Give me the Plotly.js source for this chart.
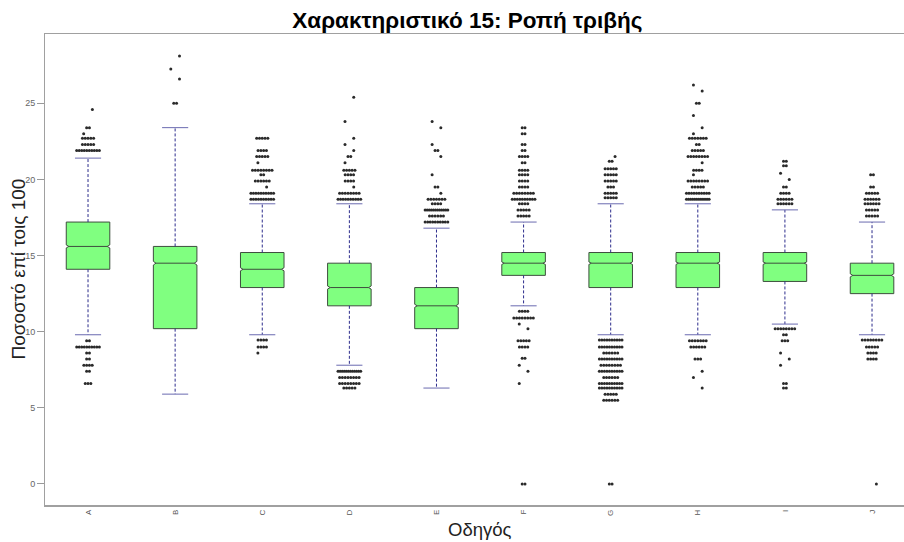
<!DOCTYPE html>
<html>
<head>
<meta charset="utf-8">
<script src="https://cdn.plot.ly/plotly-3.0.1.min.js"></script>
<style>html,body{margin:0;padding:0;background:#fff;}#chart{width:904px;height:542px;}</style>
</head>
<body>
<div id="chart"></div>
<script>
// ---- data ----
const categories = ['A','B','C','D','E','F','G','H','I','J'];
const q1      = [14.1, 10.2, 12.9, 11.7, 10.2, 13.7, 12.9, 12.9, 13.3, 12.5];
const medians = [15.6, 14.5, 14.1, 12.9, 11.7, 14.5, 14.5, 14.5, 14.5, 13.7];
const q3      = [17.2, 15.6, 15.2, 14.5, 12.9, 15.2, 15.2, 15.2, 15.2, 14.5];
const lowerWhisker = [9.8, 5.9, 9.8, 7.8, 6.3, 11.7, 9.8, 9.8, 10.5, 9.8];
const upperWhisker = [21.4, 23.4, 18.4, 18.4, 16.8, 17.2, 18.4, 18.4, 18.0, 17.2];
const notchSpan = [0.1, 0.12, 0.1, 0.1, 0.1, 0.08, 0.08, 0.08, 0.08, 0.1];

// outlier levels (value) and how many points sit on each level
const outA_y = [24.6, 23.4, 23.0, 22.7, 22.3, 21.9, 9.4, 9.0, 8.6, 8.2, 7.8, 7.4, 6.6];
const outA_n = [1, 2, 1, 5, 5, 10, 2, 10, 2, 2, 4, 2, 3];
const outB_y = [28.1, 27.25, 26.6, 25.0];
const outB_n = [1, 1, 1, 2];
const outC_y = [22.7, 21.9, 21.5, 21.1, 20.6, 20.3, 19.9, 19.5, 19.1, 18.7, 9.45, 9.0, 8.6];
const outC_n = [5, 4, 5, 1, 8, 2, 6, 1, 10, 10, 4, 4, 1];
const outD_y = [25.4, 23.8, 22.7, 22.3, 21.9, 21.5, 21.1, 20.6, 20.3, 19.9, 19.5, 19.1, 18.7, 7.4, 7.0, 6.6, 6.3];
const outD_n = [1, 1, 1, 1, 1, 2, 1, 5, 4, 4, 1, 8, 10, 12, 8, 8, 5];
const outE_y = [23.8, 23.4, 22.3, 21.9, 21.5, 20.3, 19.5, 19.1, 18.7, 18.4, 18.0, 17.6, 17.2];
const outE_n = [1, 1, 1, 2, 1, 1, 2, 1, 7, 4, 12, 6, 10];
const outF_y = [23.4, 23.0, 22.3, 21.9, 21.5, 21.1, 20.6, 20.3, 19.9, 19.5, 19.1, 18.7, 18.4, 18.0, 17.6,
                11.35, 10.9, 10.5, 10.2, 9.4, 9.0, 8.25, 7.8, 7.4, 6.6, 0];
const outF_n = [2, 2, 2, 2, 4, 2, 4, 4, 4, 4, 8, 10, 4, 5, 5, 4, 8, 1, 1, 5, 4, 2, 1, 1, 1, 2];
const outG_y = [21.5, 21.2, 20.7, 20.3, 19.9, 19.5, 19.1, 18.8,
                9.45, 9.0, 8.6, 8.2, 7.8, 7.4, 7.0, 6.6, 6.3, 5.9, 5.5, 0];
const outG_n = [1, 2, 5, 5, 5, 3, 5, 5, 10, 10, 6, 10, 8, 10, 6, 10, 10, 5, 6, 2];
const outH_y = [26.2, 25.8, 25.0, 24.2, 23.4, 23.0, 22.7, 22.3, 21.9, 21.5, 21.1, 20.6, 20.3, 19.9, 19.5, 19.1, 18.7,
                9.4, 9.0, 8.2, 7.4, 7.0, 6.3];
const outH_n = [1, 1, 2, 1, 1, 1, 7, 2, 5, 8, 1, 4, 1, 8, 5, 10, 12, 7, 6, 3, 1, 1, 1];
const outI_y = [21.2, 20.9, 20.4, 20.0, 19.5, 19.1, 18.7, 18.4, 10.2, 9.8, 9.4, 8.6, 8.2, 7.8, 6.6, 6.3];
const outI_n = [2, 2, 1, 1, 2, 4, 6, 6, 8, 2, 3, 1, 1, 1, 2, 2];
const outJ_y = [20.3, 19.5, 19.1, 18.7, 18.4, 18.0, 17.6, 9.45, 9.0, 8.6, 8.2, 0];
const outJ_n = [2, 2, 5, 6, 6, 5, 5, 8, 5, 4, 4, 1];

const outY = [outA_y, outB_y, outC_y, outD_y, outE_y, outF_y, outG_y, outH_y, outI_y, outJ_y];
const outN = [outA_n, outB_n, outC_n, outD_n, outE_n, outF_n, outG_n, outH_n, outI_n, outJ_n];

// ---- build traces ----
const pos = categories.map((c, i) => i + 1);

const boxTrace = {
  type: 'box',
  x: pos,
  q1: q1, median: medians, q3: q3,
  lowerfence: q1, upperfence: q3,
  notched: true, notchspan: notchSpan, notchwidth: 0.06,
  width: 0.5,
  whiskerwidth: 0,
  boxpoints: false,
  fillcolor: '#80FF80',
  line: {color: '#3e4e3e', width: 1},
  hoverinfo: 'skip',
  showlegend: false
};

const wx = [], wy = [], cx = [], cy = [];
const capHalf = 0.15;
pos.forEach((p, i) => {
  wx.push(p, p, null, p, p, null);
  wy.push(q3[i], upperWhisker[i], null, q1[i], lowerWhisker[i], null);
  cx.push(p - capHalf, p + capHalf, null, p - capHalf, p + capHalf, null);
  cy.push(upperWhisker[i], upperWhisker[i], null, lowerWhisker[i], lowerWhisker[i], null);
});
const whiskerTrace = {type: 'scatter', mode: 'lines', x: wx, y: wy,
  line: {color: '#2c2c8c', width: 1, dash: '3px,2px'}, hoverinfo: 'skip', showlegend: false};
const capTrace = {type: 'scatter', mode: 'lines', x: cx, y: cy,
  line: {color: '#6a6ab0', width: 1}, hoverinfo: 'skip', showlegend: false};

const ox = [], oy = [];
let flip = 1;
pos.forEach((p, i) => {
  outY[i].forEach((v, j) => {
    const n = outN[i][j];
    if (n === 1) {
      ox.push(p + 0.05 * flip); oy.push(v); flip = -flip;
    } else {
      const w = Math.min(0.26, 0.032 * (n - 1));
      for (let k = 0; k < n; k++) { ox.push(p - w / 2 + w * k / (n - 1)); oy.push(v); }
    }
  });
});
const outlierTrace = {type: 'scatter', mode: 'markers', x: ox, y: oy,
  marker: {symbol: 'circle', size: 3, color: '#2a2a2a', line: {width: 0}},
  hoverinfo: 'skip', showlegend: false};

const plotW = 904 - 45, plotH = 542 - 34 - 37;
const layout = {
  width: 904, height: 542,
  margin: {l: 45, r: 0, t: 34, b: 37, pad: 0},
  paper_bgcolor: '#ffffff', plot_bgcolor: '#ffffff',
  font: {family: 'Liberation Sans, Arial, sans-serif', color: '#333'},
  title: {text: '<b>Χαρακτηριστικό 15: Ροπή τριβής</b>',
    font: {family: 'Liberation Sans, Arial, sans-serif', size: 22.5, color: '#000'},
    xref: 'container', x: 0.517, xanchor: 'center',
    yref: 'container', y: 1 - 20 / 542, yanchor: 'middle'},
  xaxis: {
    range: [0.506, 10.367],
    tickmode: 'array', tickvals: pos, ticktext: categories,
    tickangle: -90, tickfont: {size: 8, color: '#555'},
    ticks: '', showline: true, mirror: true, linecolor: '#a0a0a0', linewidth: 1.5,
    showgrid: false, zeroline: false
  },
  yaxis: {
    range: [-1.38, 29.55],
    tickmode: 'array', tickvals: [0, 5, 10, 15, 20, 25],
    tickfont: {size: 9, color: '#666'},
    ticks: 'outside', ticklen: 7, tickcolor: '#999',
    showline: true, linecolor: '#a0a0a0', linewidth: 1,
    showgrid: false, zeroline: false
  },
  annotations: [{
    text: 'Ποσοστό επί τοις 100', textangle: -90, showarrow: false,
    xref: 'paper', yref: 'paper', x: (18 - 45) / plotW, y: 0.5,
    xanchor: 'center', yanchor: 'middle',
    font: {size: 19, color: '#222'}
  }, {
    text: 'Οδηγός', showarrow: false,
    xref: 'paper', yref: 'paper', x: (480 - 45) / plotW, y: -(529 - 505) / plotH,
    xanchor: 'center', yanchor: 'middle',
    font: {size: 18.5, color: '#222'}
  }]
};

Plotly.newPlot('chart', [boxTrace, whiskerTrace, capTrace, outlierTrace], layout, {displayModeBar: false, staticPlot: true});
</script>
</body>
</html>
